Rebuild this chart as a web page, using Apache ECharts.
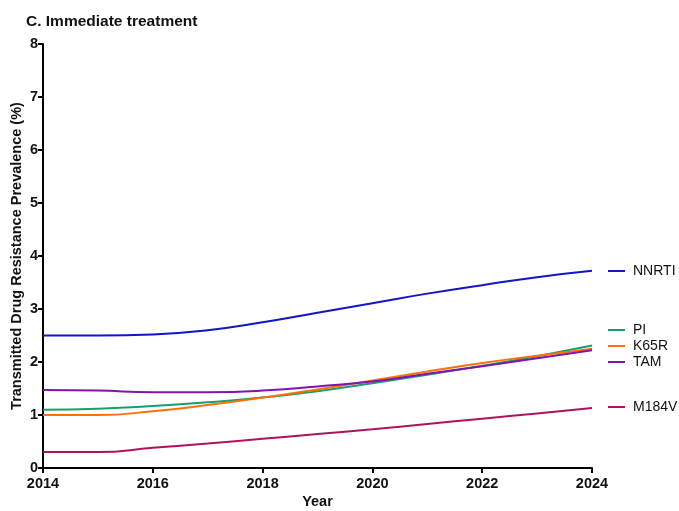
<!DOCTYPE html>
<html>
<head>
<meta charset="utf-8">
<script src="https://cdn.jsdelivr.net/npm/echarts@6/dist/echarts.min.js"></script>
<style>
  html, body { margin: 0; padding: 0; background: #fff; }
  #chart { width: 679px; height: 511px; }
</style>
</head>
<body>
<div id="chart"></div>
<script>
// Projected transmitted drug resistance, immediate treatment scenario
const years = [2014, 2015, 2016, 2017, 2018, 2019, 2020, 2021, 2022, 2023, 2024];
const nnrti = [2.50, 2.50, 2.52, 2.60, 2.75, 2.93, 3.11, 3.29, 3.45, 3.60, 3.72];
const pi    = [1.10, 1.12, 1.17, 1.24, 1.33, 1.45, 1.60, 1.76, 1.93, 2.11, 2.31];
const k65r  = [1.00, 1.00, 1.07, 1.19, 1.33, 1.48, 1.65, 1.82, 1.98, 2.12, 2.25];
const tam   = [1.47, 1.46, 1.43, 1.43, 1.46, 1.54, 1.63, 1.78, 1.92, 2.07, 2.22];
const m184v = [0.30, 0.30, 0.38, 0.46, 0.55, 0.64, 0.73, 0.83, 0.93, 1.03, 1.13];

const seriesDefs = [
  { name: 'NNRTI', values: nnrti, color: '#1414c8' },
  { name: 'PI',    values: pi,    color: '#16a070' },
  { name: 'K65R',  values: k65r,  color: '#ff6f0a' },
  { name: 'TAM',   values: tam,   color: '#8014ae' },
  { name: 'M184V', values: m184v, color: '#b0135c' }
];

const font = 'Liberation Sans, Arial, sans-serif';

function legendBlock(names, top, gap) {
  return {
    data: names,
    orient: 'vertical',
    left: 608,
    top: top,
    itemGap: gap,
    itemWidth: 17,
    itemHeight: 2,
    icon: 'rect',
    selectedMode: false,
    textStyle: { fontFamily: font, fontSize: 14, color: '#111', padding: [0, 0, 0, 3] },
    padding: 0
  };
}

const chart = echarts.init(document.getElementById('chart'), null, { renderer: 'canvas' });
chart.setOption({
  animation: false,
  backgroundColor: '#fff',
  title: {
    text: 'C. Immediate treatment',
    left: 26,
    top: 14,
    padding: 0,
    textStyle: { fontFamily: font, fontSize: 15.5, fontWeight: 'bold', color: '#111' }
  },
  legend: [
    legendBlock(['NNRTI'], 264, 0),
    legendBlock(['PI', 'K65R', 'TAM'], 323, 2),
    legendBlock(['M184V'], 400, 0)
  ],
  grid: {
    left: 43, right: 87, top: 44, bottom: 43,
    containLabel: false,
    outerBoundsMode: 'none'
  },
  xAxis: {
    type: 'value',
    min: 2014,
    max: 2024,
    interval: 2,
    name: 'Year',
    nameLocation: 'middle',
    nameGap: 26,
    nameMoveOverlap: false,
    nameTextStyle: { fontFamily: font, fontSize: 14.5, fontWeight: 'bold', color: '#111' },
    axisLine: { lineStyle: { color: '#000', width: 2 } },
    axisTick: { show: true, length: 5, lineStyle: { color: '#000', width: 2 } },
    axisLabel: {
      fontFamily: font, fontSize: 14.5, fontWeight: 'bold', color: '#111', margin: 8,
      formatter: v => String(v)
    },
    splitLine: { show: false }
  },
  yAxis: {
    type: 'value',
    min: 0,
    max: 8,
    interval: 1,
    name: 'Transmitted Drug Resistance Prevalence (%)',
    nameLocation: 'middle',
    nameGap: 19,
    nameMoveOverlap: false,
    nameRotate: 90,
    nameTextStyle: { fontFamily: font, fontSize: 14.5, fontWeight: 'bold', color: '#111' },
    axisLine: { show: true, lineStyle: { color: '#000', width: 2 } },
    axisTick: { show: true, length: 5, lineStyle: { color: '#000', width: 2 } },
    axisLabel: { fontFamily: font, fontSize: 14.5, fontWeight: 'bold', color: '#111', margin: 5 },
    splitLine: { show: false }
  },
  series: seriesDefs.map(s => ({
    name: s.name,
    type: 'line',
    smooth: true,
    symbol: 'none',
    data: years.map((y, i) => [y, s.values[i]]),
    color: s.color,
    lineStyle: { color: s.color, width: 2 }
  }))
});
</script>
</body>
</html>
